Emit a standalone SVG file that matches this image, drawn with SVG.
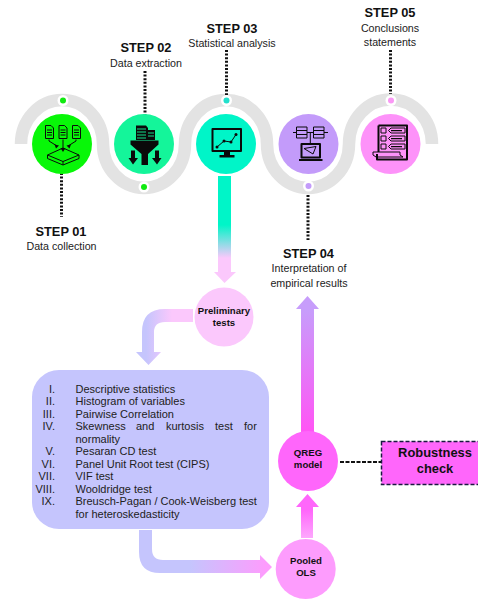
<svg xmlns="http://www.w3.org/2000/svg" width="478" height="599" viewBox="0 0 478 599">
<style>
text{font-family:"Liberation Sans",Arial,sans-serif;fill:#1a1a1a}
.h{font-size:12.8px;font-weight:700;text-anchor:middle;fill:#111}
.s{font-size:10.7px;text-anchor:middle;fill:#222}
.b{font-size:9.6px;font-weight:700;text-anchor:middle;fill:#111}
.l{font-size:11px;fill:#222}
.n{font-size:11px;fill:#222;text-anchor:end}
.dot{fill:none;stroke:#111;stroke-width:3;stroke-dasharray:2 1.6}
.ln{fill:none;stroke:#0a0a0a;stroke-width:1;stroke-linejoin:round}
.th{fill:none;stroke:#0a0a0a;stroke-width:2;stroke-linejoin:round}
.k{fill:#0a0a0a}
.halo{fill:#fff}
</style>
<defs>
<linearGradient id="g1" gradientUnits="userSpaceOnUse" x1="0" y1="225" x2="0" y2="258"><stop offset="0" stop-color="#00f5c8"/><stop offset="1" stop-color="#fbc8fc"/></linearGradient>
<linearGradient id="g2" gradientUnits="userSpaceOnUse" x1="172" y1="0" x2="146" y2="0"><stop offset="0" stop-color="#fbc8fc"/><stop offset="1" stop-color="#c5c5fd"/></linearGradient>
<linearGradient id="g3" gradientUnits="userSpaceOnUse" x1="190" y1="0" x2="265" y2="0"><stop offset="0" stop-color="#c5c5fd"/><stop offset="1" stop-color="#fd9cfd"/></linearGradient>
<linearGradient id="g4" gradientUnits="userSpaceOnUse" x1="0" y1="538" x2="0" y2="510"><stop offset="0" stop-color="#fda8fd"/><stop offset="1" stop-color="#ff66fb"/></linearGradient>
<linearGradient id="g5" gradientUnits="userSpaceOnUse" x1="0" y1="310" x2="0" y2="430"><stop offset="0" stop-color="#c79dfb"/><stop offset="1" stop-color="#ff55f5"/></linearGradient>
</defs>

<g id="connectors">
<path d="M21,144 A41,44 0 0 1 103,144 A41,44 0 0 0 185,144 A41,44 0 0 1 267,144 A41,44 0 0 0 349,144 A41,44 0 0 1 432,144" fill="none" stroke="#e3e3e3" stroke-width="12.5"/>
<path class="dot" d="M61.500,173V217"/>
<path class="dot" d="M145,71V115"/>
<path class="dot" d="M226.500,50V95"/>
<path class="dot" d="M308,195V240"/>
<path class="dot" d="M390.500,50V94"/>
<path d="M218,176H231V272H236L224.500,283L214,272H218Z" fill="url(#g1)"/>
<path d="M193,309H165Q142,309 142,332V352H136L148.500,365L161,352H154V332Q154,322 165,322H193Z" fill="url(#g2)"/>
<path d="M139,530V552Q139,573 160,573H260V579L272,567L260,555V560H163Q152,560 152,549V530Z" fill="url(#g3)"/>
<path d="M301,538V507H296L307.500,494L319,507H313V538Z" fill="url(#g4)"/>
<path d="M301,432V309H296L307.500,296L319,309H314V432Z" fill="url(#g5)"/>
<path d="M340,462H381" fill="none" stroke="#111" stroke-width="2" stroke-dasharray="4 1.500"/>
</g>

<g id="dots">
<circle class="halo" cx="63" cy="100.500" r="5.500"/><circle cx="63" cy="100.500" r="3" fill="#10ea10"/>
<circle class="halo" cx="144" cy="187" r="5.500"/><circle cx="144" cy="187" r="3" fill="#10ea10"/>
<circle class="halo" cx="226.500" cy="100.500" r="5.500"/><circle cx="226.500" cy="100.500" r="3" fill="#22e0cc"/>
<circle class="halo" cx="308.500" cy="186" r="5.500"/><circle cx="308.500" cy="186" r="3" fill="#c39bfa"/>
<circle class="halo" cx="391" cy="100.500" r="5.500"/><circle cx="391" cy="100.500" r="3" fill="#fa98f5"/>
</g>

<g id="step01">
<circle cx="62" cy="144" r="30" fill="#08f708"/>
<path class="ln" d="M45.500,125.500H51L53.500,128V138.500H45.500ZM47,130H52M47,132.500H52M47,135H52M59,125.500H64.500L67,128V138.500H59ZM60.500,130H65.500M60.500,132.500H65.500M60.500,135H65.500M72.500,125.500H78L80.500,128V138.500H72.500ZM74,130H79M74,132.500H79M74,135H79"/>
<path class="ln" d="M49,139.500V141L57,146M63,139.500V150M76,139.500V141L68,146M47.500,155L63,148L79,155L63,161.500ZM47.500,155V158.500L63,165L79,158.500V155M63,161.500V165"/>
<path class="k" d="M54.500,144.500L59,145.500L56,148.500ZM60.500,148H65.500L63,152ZM71,144.500L66.500,145.500L69.500,148.500Z"/>
<text class="h" x="61" y="235.500">STEP 01</text>
<text class="s" x="61.500" y="250">Data collection</text>
</g>

<g id="step02">
<circle cx="144" cy="144" r="30" fill="#14f59a"/>
<path class="k" d="M136,125.500H146L148,128V130H155V140H136Z"/>
<path d="M137,129H146M137,132H146M137,135H146M137,138H146M148,133H154M148,136H154" stroke="#14f59a" stroke-width="0.900" fill="none"/>
<path class="k" d="M130.500,140.500H158.500V144.500L148,154V165H141.500V154L130.500,144.500Z"/>
<path class="k" d="M131,150.500H135V158H138L133,164.500L128.500,158H131ZM155,150.500H159V158H161.500L157,164.500L152,158H155Z"/>
<text class="h" x="146" y="52">STEP 02</text>
<text class="s" x="146" y="67">Data extraction</text>
</g>

<g id="step03">
<circle cx="226" cy="144" r="30" fill="#00f5c8"/>
<path class="th" d="M212.500,129H241V151H212.500Z"/>
<path class="k" d="M224,152H230V155H234.500V157.500H219.500V155H224Z"/>
<path class="ln" d="M217,147L224,141L231,142L236,134.500"/>
<circle class="k" cx="217" cy="147" r="1.500"/><circle class="k" cx="224" cy="141" r="1.500"/><circle class="k" cx="231" cy="142" r="1.500"/><circle class="k" cx="236" cy="134.500" r="1.500"/>
<text class="h" x="232" y="32.500">STEP 03</text>
<text class="s" x="232" y="47">Statistical analysis</text>
</g>

<g id="step04">
<circle cx="308.500" cy="144" r="30" fill="#c39bfa"/>
<path class="ln" d="M296.500,127H307V130.500H296.500ZM296.500,130.500H307V134.500H296.500ZM296.500,134.500H307V138H296.500ZM313.500,127H324V130.500H313.500ZM313.500,130.500H324V134.500H313.500ZM313.500,134.500H324V138H313.500ZM293,132.500H296.500M307,132.500H313.500M324,132.500H328M310.300,132.500V143"/>
<path class="th" d="M301.500,144H320V157.500H301.500Z" stroke-width="1.300"/>
<path class="th" d="M299,160H322.500" stroke-width="2"/>
<path class="ln" d="M304,148.500L316,146.500L313,154Z"/>
<text class="h" x="308.500" y="257.500">STEP 04</text>
<text class="s" x="309" y="272">Interpretation of</text>
<text class="s" x="309" y="287">empirical results</text>
</g>

<g id="step05">
<circle cx="390.500" cy="144" r="30" fill="#fd92f9"/>
<path class="th" d="M378.500,125.500H407V159.500H377V154M378.500,125.500V152" stroke-width="1.300"/>
<path class="ln" d="M381,128H386V133H381ZM381,136H386V141H381ZM381,144H386V149H381ZM388.500,130.500L391,128H405V133H391ZM388.500,138.500L391,136H405V141H391ZM388.500,146.500L391,144H405V149H391ZM373,152H400V155L403,157H376L373,155Z"/>
<path class="k" d="M391,130H402V131.300H391ZM391,138H402V139.300H391ZM391,146H402V147.300H391Z"/>
<text class="h" x="390" y="17">STEP 05</text>
<text class="s" x="390" y="31.500">Conclusions</text>
<text class="s" x="390" y="46">statements</text>
</g>

<g id="preliminary">
<circle cx="224" cy="317" r="29.500" fill="#fbc8fc"/>
<text class="b" x="224" y="313.500">Preliminary</text>
<text class="b" x="224" y="326">tests</text>
</g>

<g id="list">
<rect x="32" y="370" width="237" height="159" rx="27" fill="#c5c5fd"/>
<text class="n" x="55" y="392.500">I.</text><text class="l" x="75.500" y="392.500">Descriptive statistics</text>
<text class="n" x="55" y="405">II.</text><text class="l" x="75.500" y="405">Histogram of variables</text>
<text class="n" x="55" y="417.500">III.</text><text class="l" x="75.500" y="417.500">Pairwise Correlation</text>
<text class="n" x="55" y="430">IV.</text><text class="l" y="430"><tspan x="75.500">Skewness</tspan><tspan x="136">and</tspan><tspan x="166">kurtosis</tspan><tspan x="215">test</tspan><tspan x="244">for</tspan></text>
<text class="l" x="75.500" y="442.500">normality</text>
<text class="n" x="55" y="455">V.</text><text class="l" x="75.500" y="455">Pesaran CD test</text>
<text class="n" x="55" y="467.500">VI.</text><text class="l" x="75.500" y="467.500">Panel Unit Root test (CIPS)</text>
<text class="n" x="55" y="480">VII.</text><text class="l" x="75.500" y="480">VIF test</text>
<text class="n" x="55" y="492.500">VIII.</text><text class="l" x="75.500" y="492.500">Wooldridge test</text>
<text class="n" x="55" y="505">IX.</text><text class="l" x="75.500" y="505">Breusch-Pagan / Cook-Weisberg test</text>
<text class="l" x="75.500" y="517.500">for heteroskedasticity</text>
</g>

<g id="pooled">
<circle cx="305.700" cy="569" r="30" fill="#fd9cfd"/>
<text class="b" x="306" y="563.500">Pooled</text>
<text class="b" x="306" y="575.500">OLS</text>
</g>

<g id="qreg">
<circle cx="308" cy="461" r="30" fill="#ff66fb"/>
<text class="b" x="308" y="455.500">QREG</text>
<text class="b" x="308" y="468">model</text>
</g>

<g id="robustness">
<rect x="381.500" y="441.500" width="100" height="43" fill="#ff66fb" stroke="#1a1a40" stroke-width="1.500" stroke-dasharray="4 2"/>
<text class="h" x="435" y="457" style="font-size:12.900px">Robustness</text>
<text class="h" x="435" y="473" style="font-size:12.900px">check</text>
</g>
</svg>
